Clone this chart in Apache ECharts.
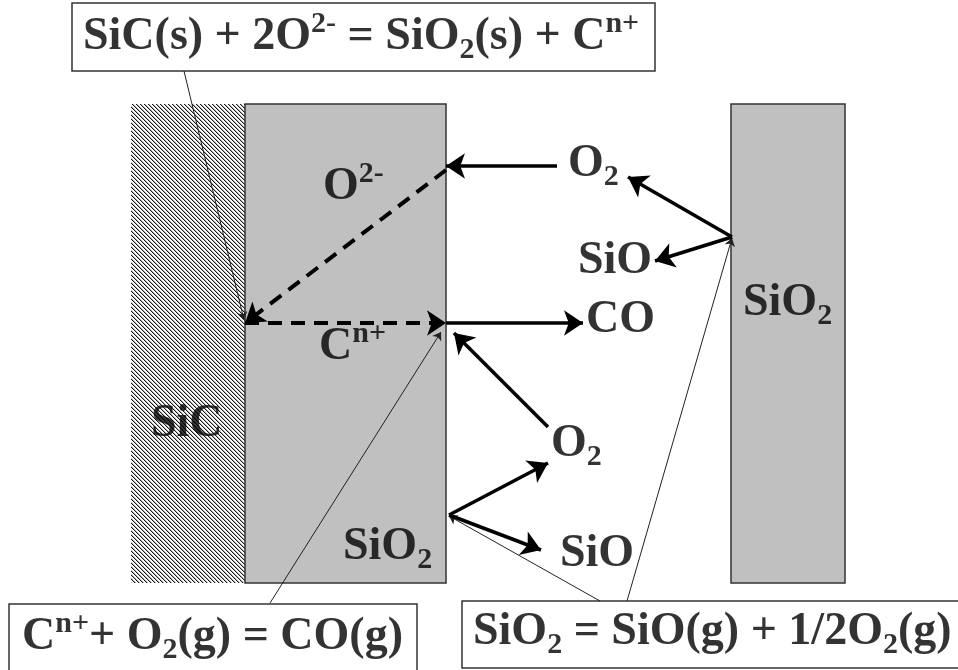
<!DOCTYPE html>
<html>
<head>
<meta charset="utf-8">
<script src="https://cdn.jsdelivr.net/npm/echarts@6/dist/echarts.min.js"></script>
<style>
html,body{margin:0;padding:0;background:#fff;}
#main{width:958px;height:670px;}
</style>
</head>
<body>
<div id="main"></div>
<script>
// Diagram regions: [x0, y0, x1, y1, kind]
var regions = [
  [131, 104, 245, 583, 'hatch'],   // SiC
  [245, 104, 446, 583, 'gray'],    // SiO2 scale
  [731, 104, 845, 583, 'gray'],    // SiO2 (right)
  [72, 3, 655, 71, 'box'],         // top equation box
  [9, 604, 417, 674, 'box'],       // bottom-left equation box
  [462, 601, 962, 668, 'box']      // bottom-right equation box
];

// Solid thick arrows: [x1, y1, x2, y2] (end = arrow tip)
var solidArrows = [
  [557, 166, 446, 166],
  [446, 323, 583, 323],
  [548, 427, 454, 333],
  [449, 515, 548, 463],
  [449, 515, 541, 550],
  [732, 237, 628, 177],
  [732, 237, 655, 261]
];

// Dashed thick arrows
var dashedArrows = [
  [446, 170, 245, 323],
  [245, 323, 446, 323]
];

// Thin leader lines
var leaderLines = [
  [184, 71, 244, 320],
  [270, 603, 441, 332],
  [600, 601, 449, 516],
  [627, 601, 732, 238]
];

// Labels: [xLeft, yCenter, rich text]
var labels = [
  [83, 37, '{m|SiC(s) + 2O}{p|2-}{m| = SiO}{b|2}{m|(s) + C}{p|n+}'],
  [22, 637, '{m|C}{p|n+}{m|+ O}{b|2}{m|(g) = CO(g)}'],
  [473, 632, '{m|SiO}{b|2}{m| = SiO(g) + 1/2O}{b|2}{m|(g)}'],
  [323, 187, '{m|O}{p|2-}'],
  [319, 347, '{m|C}{p|n+}'],
  [151, 424, '{m|SiC}'],
  [343, 547, '{m|SiO}{b|2}'],
  [743, 303, '{m|SiO}{b|2}'],
  [568, 164, '{m|O}{b|2}'],
  [578, 261, '{m|SiO}'],
  [586, 320, '{m|CO}'],
  [551, 444, '{m|O}{b|2}'],
  [560, 554, '{m|SiO}']
];

// hatch pattern
var tile = document.createElement('canvas');
tile.width = 4; tile.height = 4;
var tctx = tile.getContext('2d');
tctx.fillStyle = '#fff'; tctx.fillRect(0, 0, 4, 4);
for (var i = 0; i < 4; i++) {
  tctx.fillStyle = '#1a1a1a'; tctx.fillRect(i, i, 1, 1);
  tctx.fillStyle = '#b0b0b0'; tctx.fillRect((i + 1) % 4, i, 1, 1);
}

function toLines(arr) {
  return arr.map(function (a) { return { coords: [[a[0], a[1]], [a[2], a[3]]] }; });
}

var FONT = '"Liberation Serif", "Times New Roman", serif';
var rich = {
  m: { fontSize: 46, fontFamily: FONT, fontWeight: 'bold', color: '#000', lineHeight: 56, verticalAlign: 'middle' },
  p: { fontSize: 30, fontFamily: FONT, fontWeight: 'bold', color: '#000', lineHeight: 40, verticalAlign: 'top' },
  b: { fontSize: 30, fontFamily: FONT, fontWeight: 'bold', color: '#000', lineHeight: 24, verticalAlign: 'bottom' }
};

var chart = echarts.init(document.getElementById('main'), null, { renderer: 'canvas' });
chart.setOption({
  animation: false,
  backgroundColor: '#fff',
  grid: { left: 0, right: 0, top: 0, bottom: 0 },
  xAxis: { type: 'value', min: 0, max: 958, show: false },
  yAxis: { type: 'value', min: 0, max: 670, inverse: true, show: false },
  series: [
    {
      type: 'custom',
      coordinateSystem: 'cartesian2d',
      encode: { x: [0, 2], y: [1, 3] },
      data: regions,
      z: 1,
      renderItem: function (params, api) {
        var p0 = api.coord([api.value(0), api.value(1)]);
        var p1 = api.coord([api.value(2), api.value(3)]);
        var kind = regions[params.dataIndex][4];
        var style;
        if (kind === 'hatch') {
          style = { fill: { image: tile, repeat: 'repeat' }, stroke: null };
        } else if (kind === 'gray') {
          style = { fill: '#c0c0c0', stroke: '#333', lineWidth: 1.5 };
        } else {
          style = { fill: '#fff', stroke: '#333', lineWidth: 1.5 };
        }
        return {
          type: 'rect',
          shape: { x: p0[0], y: p0[1], width: p1[0] - p0[0], height: p1[1] - p0[1] },
          style: style
        };
      }
    },
    {
      type: 'lines',
      coordinateSystem: 'cartesian2d',
      z: 3,
      symbol: ['none', 'arrow'],
      symbolSize: [15, 19],
      lineStyle: { color: '#000', width: 3.5, opacity: 1, curveness: 0 },
      data: toLines(solidArrows)
    },
    {
      type: 'lines',
      coordinateSystem: 'cartesian2d',
      z: 3,
      symbol: ['none', 'arrow'],
      symbolSize: [15, 19],
      lineStyle: { color: '#000', width: 4, opacity: 1, type: [14, 9], curveness: 0 },
      data: toLines(dashedArrows)
    },
    {
      type: 'lines',
      coordinateSystem: 'cartesian2d',
      z: 2,
      symbol: ['none', 'arrow'],
      symbolSize: 8,
      lineStyle: { color: '#222', width: 1, opacity: 1, curveness: 0 },
      data: toLines(leaderLines)
    },
    {
      type: 'scatter',
      z: 5,
      symbolSize: 0,
      silent: true,
      data: labels.map(function (l) { return { value: [l[0], l[1]], text: l[2] }; }),
      label: {
        show: true,
        position: 'inside',
        align: 'left',
        verticalAlign: 'middle',
        formatter: function (p) { return p.data.text; },
        rich: rich
      }
    }
  ]
});
</script>
</body>
</html>
